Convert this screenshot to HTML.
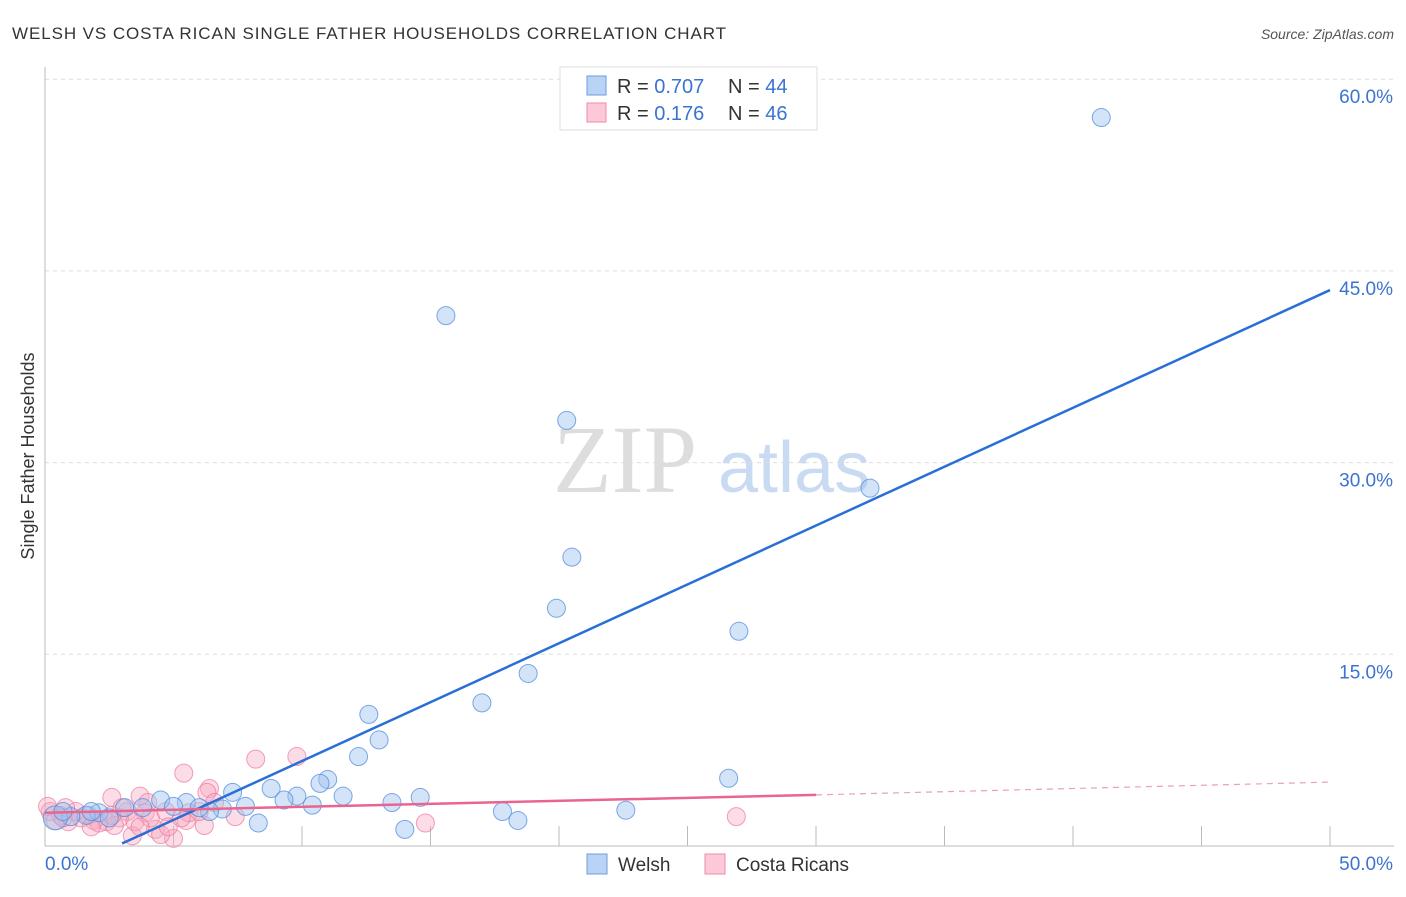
<!DOCTYPE html>
<html><head><meta charset="utf-8"><style>
body{margin:0;background:#fff;font-family:"Liberation Sans",sans-serif;}
</style></head><body>
<svg id="chart" width="1406" height="892" xmlns="http://www.w3.org/2000/svg" font-family="Liberation Sans, sans-serif">
<text x="12" y="39" font-size="17" fill="#333" textLength="714">WELSH VS COSTA RICAN SINGLE FATHER HOUSEHOLDS CORRELATION CHART</text>
<text x="1394" y="39" font-size="14" fill="#555" font-style="italic" text-anchor="end">Source: ZipAtlas.com</text>
<text x="34" y="456" font-size="18" fill="#333" text-anchor="middle" transform="rotate(-90 34 456)">Single Father Households</text>
<text x="553" y="492" font-size="96" fill="#ddd" style="font-family:'Liberation Serif',serif">ZIP</text>
<text x="718" y="492" font-size="72" fill="#c9dbf3">atlas</text>
<g id="grid"></g><g id="marks"></g>
<g>
<rect x="560" y="67" width="257" height="63" fill="#fff" stroke="#ddd"/>
<rect x="587" y="76" width="19" height="19" fill="#b9d3f5" stroke="#6a9ee0"/>
<rect x="587" y="103" width="19" height="19" fill="#fbc9d7" stroke="#f08aa8"/>
<text x="617" y="93" font-size="20" fill="#333">R = <tspan fill="#3b73d1">0.707</tspan></text>
<text x="728" y="93" font-size="20" fill="#333">N = <tspan fill="#3b73d1">44</tspan></text>
<text x="617" y="120" font-size="20" fill="#333">R = <tspan fill="#3b73d1"> 0.176</tspan></text>
<text x="728" y="120" font-size="20" fill="#333">N = <tspan fill="#3b73d1">46</tspan></text>
</g>
<g>
<rect x="587" y="854" width="20" height="20" fill="#b9d3f5" stroke="#6a9ee0"/>
<text x="618" y="871" font-size="19" fill="#333">Welsh</text>
<rect x="705" y="854" width="20" height="20" fill="#fbc9d7" stroke="#f08aa8"/>
<text x="736" y="871" font-size="19" fill="#333">Costa Ricans</text>
</g>
</svg>
<script>
const yTicks=[15,30,45,60];
const yTickLabels=["15.0%","30.0%","45.0%","60.0%"];
const xTickLabels=["0.0%","50.0%"];
const welshX=[41.1,15.6,20.3,32.1,20.5,19.9,27.0,18.8,17.0,12.6,13.0,12.2,26.6,11.0,10.7,8.8,7.3,11.6,9.8,14.6,9.3,13.5,10.4,4.5,5.5,7.8,6.9,5.0,22.6,17.8,6.4,3.1,3.8,6.0,8.3,18.4,14.0,2.1,1.6,1.0,0.4,0.7,2.5,1.8];
const welshY=[57.0,41.5,33.3,28.0,22.6,18.6,16.8,13.5,11.2,10.3,8.3,7.0,5.3,5.2,4.9,4.5,4.2,3.9,3.9,3.8,3.6,3.4,3.2,3.6,3.4,3.1,2.9,3.1,2.8,2.7,2.7,3.0,3.0,3.0,1.8,2.0,1.3,2.6,2.4,2.3,2.2,2.7,2.2,2.7];
const crX=[9.8,8.2,5.4,6.4,6.3,3.7,2.6,4.0,26.9,14.8,6.2,7.4,5.5,5.0,4.3,3.4,4.5,3.9,3.2,2.9,2.4,2.7,1.9,1.4,0.9,0.6,0.2,0.4,1.2,1.7,2.1,3.5,4.1,4.7,5.6,4.8,3.7,2.6,0.8,0.1,6.0,5.3,3.0,0.7,1.8,6.6];
const crY=[7.0,6.8,5.7,4.5,4.2,3.9,3.8,3.4,2.3,1.8,1.6,2.3,2.0,0.6,1.3,0.8,0.9,2.6,2.7,2.2,1.9,1.6,2.0,2.2,1.9,2.4,2.7,2.0,2.7,2.4,1.8,1.9,2.2,2.7,2.6,1.5,1.5,2.4,3.0,3.1,2.7,2.2,3.0,2.2,1.5,3.4];
const welshTrend=[[3.0,0.2],[50,43.5]];
const crTrendSolid=[[0,2.6],[30,4.0]];
const crTrendDash=[[30,4.0],[50,5.0]];
const X=v=>45+v*25.7, Y=v=>846-v*12.78;
const NS="http://www.w3.org/2000/svg";
function mk(t,a,p){const e=document.createElementNS(NS,t);for(const k in a)e.setAttribute(k,a[k]);p.appendChild(e);return e;}
const grid=document.getElementById('grid'), marks=document.getElementById('marks');
yTicks.forEach((t,i)=>{
  const l=mk('line',{x1:45,x2:1394,y1:Y(t),y2:Y(t),stroke:'#ddd','stroke-dasharray':'4,4'},grid);
  
  
  const tx=mk('text',{x:1393,y:Y(t)+24,'font-size':19,fill:'#3b73d1','text-anchor':'end'},grid);
  tx.textContent=yTickLabels[i];
  
  
});
mk('line',{x1:45,x2:45,y1:67,y2:846,stroke:'#bbb'},grid);
mk('line',{x1:45,x2:1394,y1:846,y2:846,stroke:'#bbb'},grid);
for(let v=5;v<=50;v+=5){const t=mk('line',{x1:X(v),x2:X(v),y1:826,y2:846,stroke:'#bbb'},grid);
  
  }
const xl0=mk('text',{x:45,y:870,'font-size':19,fill:'#3b73d1'},grid);xl0.textContent=xTickLabels[0];


const xl1=mk('text',{x:1393,y:870,'font-size':19,fill:'#3b73d1','text-anchor':'end'},grid);xl1.textContent=xTickLabels[1];


crX.forEach((x,i)=>{const c=mk('circle',{cx:X(x),cy:Y(crY[i]),r:9,fill:'rgba(247,168,192,0.4)',stroke:'rgba(236,120,155,0.7)'},marks);
  
  });
welshX.forEach((x,i)=>{const c=mk('circle',{cx:X(x),cy:Y(welshY[i]),r:i==40?12:9,fill:'rgba(160,196,240,0.45)',stroke:'rgba(80,140,220,0.75)'},marks);
  
  });
const wl=mk('line',{x1:X(welshTrend[0][0]),y1:Y(welshTrend[0][1]),x2:X(welshTrend[1][0]),y2:Y(welshTrend[1][1]),stroke:'#2a6fd6','stroke-width':2.5},marks);


const cl=mk('line',{x1:X(crTrendSolid[0][0]),y1:Y(crTrendSolid[0][1]),x2:X(crTrendSolid[1][0]),y2:Y(crTrendSolid[1][1]),stroke:'#e9658f','stroke-width':2.5},marks);


const cd=mk('line',{x1:X(crTrendDash[0][0]),y1:Y(crTrendDash[0][1]),x2:X(crTrendDash[1][0]),y2:Y(crTrendDash[1][1]),stroke:'#e9a0b8','stroke-width':1.2,'stroke-dasharray':'6,5'},marks);


</script>
</body></html>
